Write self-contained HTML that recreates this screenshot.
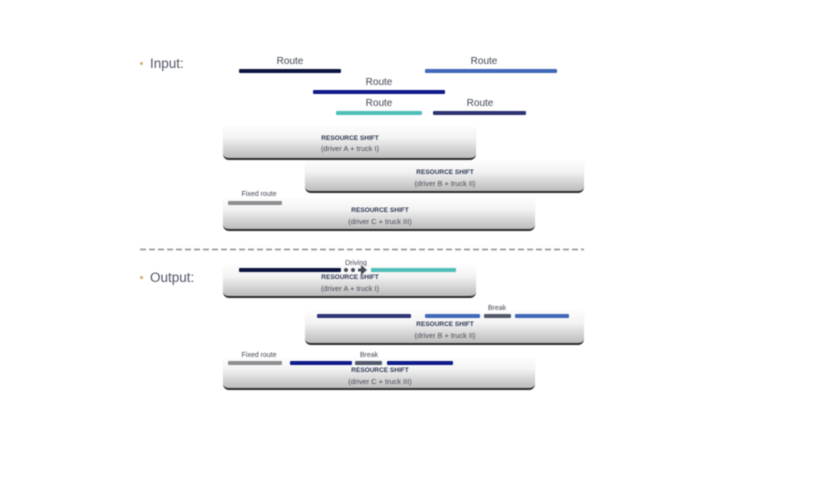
<!DOCTYPE html>
<html>
<head>
<meta charset="utf-8">
<style>
html,body{margin:0;padding:0;background:#fff;}
#p{position:relative;width:829px;height:488px;overflow:hidden;background:#fff;font-family:"Liberation Sans",sans-serif;filter:blur(0.45px);}
.b{position:absolute;height:4px;border-radius:1px;}
.t{position:absolute;transform:translateX(-50%);white-space:nowrap;color:#3f4552;line-height:1;}
.r{font-size:10px;}
.s{font-size:7px;}
.box{position:absolute;box-sizing:border-box;border-radius:3px 3px 6px 6px;background:linear-gradient(#fcfcfc 0%,#f3f3f3 35%,#c8c8c8 85%,#bdbdbd 100%);border-bottom:2px solid #2b2b2b;box-shadow:0 0 1px rgba(150,150,150,.2);}
.h{position:absolute;transform:translateX(-50%);white-space:nowrap;font-size:6.5px;font-weight:bold;color:#2b3550;line-height:1;}
.d{position:absolute;transform:translateX(-50%);white-space:nowrap;font-size:7.4px;color:#474c58;line-height:1;}
.l{position:absolute;font-size:13.5px;color:#4f5565;line-height:1;}
.u{position:absolute;width:3px;height:3px;border-radius:50%;background:#d0a868;}
.dot{position:absolute;width:4px;height:4px;border-radius:50%;background:#444b5a;}
</style>
</head>
<body>
<div id="p">
<div class="u" style="left:140px;top:62px;"></div>
<div class="l" style="left:150px;top:57px;">Input:</div>
<div class="u" style="left:140px;top:276px;"></div>
<div class="l" style="left:150px;top:271px;">Output:</div>

<div class="t r" style="left:290px;top:57px;">Route</div>
<div class="t r" style="left:484px;top:57px;">Route</div>
<div class="t r" style="left:379px;top:78px;">Route</div>
<div class="t r" style="left:379px;top:99px;">Route</div>
<div class="t r" style="left:480px;top:99px;">Route</div>
<div class="b" style="left:239px;top:69px;width:102px;background:#0a1540;"></div>
<div class="b" style="left:425px;top:69px;width:132px;background:#3f68b8;"></div>
<div class="b" style="left:313px;top:90px;width:132px;background:#0e1a8a;"></div>
<div class="b" style="left:336px;top:111px;width:86px;background:#4fbdb8;"></div>
<div class="b" style="left:433px;top:111px;width:93px;background:#2e3272;"></div>

<div class="box" style="left:223px;top:127px;width:253px;height:33px;"></div>
<div class="h" style="left:350px;top:136px;">RESOURCE SHIFT</div>
<div class="d" style="left:350px;top:145px;">(driver A + truck I)</div>

<div class="box" style="left:305px;top:161px;width:279px;height:32px;"></div>
<div class="h" style="left:445px;top:170px;">RESOURCE SHIFT</div>
<div class="d" style="left:445px;top:180px;">(driver B + truck II)</div>

<div class="box" style="left:223px;top:199px;width:312px;height:32px;"></div>
<div class="t s" style="left:259px;top:191px;">Fixed route</div>
<div class="b" style="left:228px;top:201px;width:54px;background:#8d8d92;"></div>
<div class="h" style="left:380px;top:208px;">RESOURCE SHIFT</div>
<div class="d" style="left:380px;top:218px;">(driver C + truck III)</div>

<svg style="position:absolute;left:0;top:0;" width="829" height="488">
<line x1="140" y1="249.5" x2="584" y2="249.5" stroke="#a5a5a5" stroke-width="2" stroke-dasharray="6 3"/>
</svg>

<div class="box" style="left:223px;top:266px;width:253px;height:32px;"></div>
<div class="t s" style="left:356px;top:260px;">Driving</div>
<div class="b" style="left:239px;top:268px;width:102px;background:#0a1540;"></div>
<div class="b" style="left:371px;top:268px;width:85px;background:#4fbdb8;"></div>
<div style="position:absolute;left:341px;top:266px;width:29px;height:8px;background:#fafafa;"></div>
<div class="dot" style="left:344px;top:268px;"></div>
<div class="dot" style="left:351px;top:268px;"></div>
<svg style="position:absolute;left:358px;top:265px;" width="10" height="10"><path d="M0 3.500h3V0l6 5-6 5V6.500H0z" fill="#444b5a"/></svg>
<div class="h" style="left:350px;top:275px;">RESOURCE SHIFT</div>
<div class="d" style="left:350px;top:285px;">(driver A + truck I)</div>

<div class="box" style="left:305px;top:312px;width:279px;height:33px;"></div>
<div class="t s" style="left:497px;top:305px;">Break</div>
<div class="b" style="left:317px;top:314px;width:94px;background:#2e3272;"></div>
<div class="b" style="left:425px;top:314px;width:55px;background:#3f68b8;"></div>
<div class="b" style="left:484px;top:314px;width:27px;background:#50586a;"></div>
<div class="b" style="left:515px;top:314px;width:54px;background:#3f68b8;"></div>
<div class="h" style="left:445px;top:322px;">RESOURCE SHIFT</div>
<div class="d" style="left:445px;top:332px;">(driver B + truck II)</div>

<div class="box" style="left:223px;top:359px;width:312px;height:31px;"></div>
<div class="t s" style="left:259px;top:352px;">Fixed route</div>
<div class="t s" style="left:369px;top:352px;">Break</div>
<div class="b" style="left:228px;top:361px;width:54px;background:#8d8d92;"></div>
<div class="b" style="left:290px;top:361px;width:62px;background:#0e1a8a;"></div>
<div class="b" style="left:355px;top:361px;width:27px;background:#50586a;"></div>
<div class="b" style="left:387px;top:361px;width:66px;background:#0e1a8a;"></div>
<div class="h" style="left:380px;top:368px;">RESOURCE SHIFT</div>
<div class="d" style="left:380px;top:378px;">(driver C + truck III)</div>
</div>
</body>
</html>
